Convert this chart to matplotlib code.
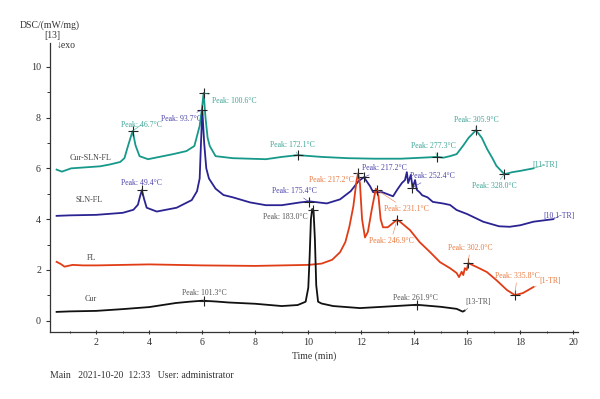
import matplotlib
matplotlib.use("Agg")
import matplotlib.pyplot as plt

plt.rcParams["font.family"] = ["Liberation Serif", "DejaVu Serif"]

# DSC curves, time (min) vs heat flow (mW/mg)
cur_t = [0.5, 1.0, 2.0, 3.0, 4.0, 5.0, 5.5, 6.0, 6.5, 7.0, 8.0, 9.0, 9.6, 9.9, 10.0,
         10.05, 10.1, 10.15, 10.2, 10.25, 10.3, 10.37, 10.5, 10.94, 11.95, 12.8, 14.1,
         15.0, 15.6, 15.83, 15.9]
cur_y = [0.35, 0.37, 0.39, 0.46, 0.54, 0.7, 0.75, 0.79, 0.76, 0.72, 0.67, 0.58, 0.62,
         0.75, 1.3, 2.5, 4.0, 4.4, 4.3, 3.2, 1.4, 0.75, 0.68, 0.58, 0.5, 0.55, 0.63,
         0.55, 0.47, 0.36, 0.4]

fl_t = [0.5, 0.65, 0.8, 1.1, 1.5, 2.0, 3.0, 4.0, 5.0, 6.0, 7.0, 8.0, 9.0, 10.0, 10.5,
        10.9, 11.2, 11.4, 11.55, 11.7, 11.82, 11.88, 11.95, 12.03, 12.14, 12.25, 12.4,
        12.55, 12.65, 12.73, 12.82, 13.0, 13.2, 13.35, 13.46, 13.84, 14.2, 14.6, 14.97,
        15.35, 15.6, 15.69, 15.79, 15.85, 15.91, 15.98, 16.04, 16.37, 16.74, 17.1, 17.5,
        17.8, 18.1, 18.5]
fl_y = [2.32, 2.24, 2.13, 2.2, 2.18, 2.18, 2.2, 2.22, 2.2, 2.18, 2.17, 2.16, 2.18, 2.2,
        2.25, 2.4, 2.7, 3.1, 3.7, 4.5, 5.5, 5.8, 5.4, 4.0, 3.28, 3.5, 4.4, 5.2, 4.9, 4.0,
        3.68, 3.68, 3.85, 3.98, 3.9, 3.57, 3.1, 2.7, 2.31, 2.07, 1.88, 1.72, 1.93, 1.8,
        2.07, 2.0, 2.27, 2.11, 1.92, 1.6, 1.21, 1.01, 1.09, 1.33]

sln_t = [0.5, 1.0, 2.0, 3.0, 3.4, 3.57, 3.65, 3.72, 3.8, 3.9, 4.28, 5.03, 5.6, 5.8,
         5.9, 5.95, 6.0, 6.07, 6.15, 6.25, 6.5, 6.8, 7.15, 7.8, 8.4, 9.0, 9.7, 10.05,
         10.7, 11.2, 11.6, 11.9, 12.1, 12.33, 12.45, 12.8, 13.2, 13.35, 13.53, 13.65,
         13.72, 13.77, 13.87, 13.94, 14.03, 14.1, 14.2, 14.3, 14.5, 14.7, 15.07, 15.35,
         15.6, 16.0, 16.6, 17.2, 17.6, 18.0, 18.5, 19.25]
sln_y = [4.13, 4.15, 4.17, 4.25, 4.37, 4.57, 4.9, 5.14, 4.8, 4.45, 4.3, 4.45, 4.75,
         5.1, 5.6, 7.0, 8.3, 7.0, 6.0, 5.6, 5.2, 4.95, 4.86, 4.66, 4.55, 4.55, 4.66, 4.7,
         4.62, 4.78, 5.1, 5.5, 5.65, 5.3, 5.06, 5.06, 4.9, 5.15, 5.42, 5.54, 5.85, 5.42,
         5.74, 5.22, 5.54, 5.15, 5.06, 4.94, 4.86, 4.68, 4.62, 4.56, 4.36, 4.2, 3.9,
         3.72, 3.7, 3.76, 3.9, 4.0]

csf_t = [0.5, 0.7, 1.05, 2.14, 2.5, 2.9, 3.06, 3.2, 3.37, 3.48, 3.63, 3.95, 4.9, 5.4,
         5.7, 5.9, 5.98, 6.05, 6.12, 6.2, 6.28, 6.5, 7.15, 8.4, 9.0, 9.6, 10.5, 11.5,
         12.5, 13.5, 14.3, 14.86, 15.1, 15.35, 15.6, 15.85, 16.05, 16.33, 16.55, 16.75,
         16.95, 17.1, 17.4, 17.7, 18.0, 18.5]
csf_y = [5.95, 5.87, 6.0, 6.08, 6.15, 6.25, 6.4, 6.9, 7.47, 6.9, 6.48, 6.36, 6.56,
         6.68, 6.88, 7.67, 8.3, 8.97, 8.0, 7.2, 6.88, 6.48, 6.4, 6.36, 6.45, 6.52, 6.45,
         6.4, 6.38, 6.38, 6.42, 6.45, 6.42, 6.48, 6.56, 6.9, 7.2, 7.5, 7.2, 6.76, 6.4,
         6.1, 5.77, 5.85, 5.9, 6.0]

# peak labels: text, peak (time, value), label anchor (time, value), group
peaks = [
    ("Peak: 46.7°C", 3.37, 7.47, 3.69, 7.71, "csf"),
    ("Peak: 100.6°C", 6.05, 8.97, 7.2, 8.65, "csf"),
    ("Peak: 172.1°C", 9.61, 6.52, 9.42, 6.91, "csf"),
    ("Peak: 277.3°C", 14.86, 6.45, 14.74, 6.88, "csf"),
    ("Peak: 305.9°C", 16.33, 7.5, 16.33, 7.9, "csf"),
    ("Peak: 328.0°C", 17.4, 5.77, 17.04, 5.3, "csf"),
    ("Peak: 93.7°C", 6.0, 8.3, 5.2, 7.94, "sln"),
    ("Peak: 49.4°C", 3.72, 5.14, 3.69, 5.42, "sln"),
    ("Peak: 175.4°C", 10.03, 4.68, 9.46, 5.1, "sln"),
    ("Peak: 217.2°C", 12.1, 5.65, 12.86, 6.01, "sln"),
    ("Peak: 252.4°C", 13.9, 5.22, 14.7, 5.7, "sln"),
    ("Peak: 217.2°C", 11.88, 5.8, 10.86, 5.54, "fl"),
    ("Peak: 231.1°C", 12.59, 5.15, 13.69, 4.4, "fl"),
    ("Peak: 246.9°C", 13.35, 3.96, 13.12, 3.14, "fl"),
    ("Peak: 302.0°C", 16.04, 2.27, 16.1, 2.86, "fl"),
    ("Peak: 335.8°C", 17.8, 1.01, 17.88, 1.76, "fl"),
    ("Peak: 101.3°C", 6.05, 0.79, 6.07, 1.09, "cur"),
    ("Peak: 183.0°C", 10.17, 4.38, 9.12, 4.08, "cur"),
    ("Peak: 261.9°C", 14.1, 0.63, 14.06, 0.9, "cur"),
]

# end tags [..-TR]
ends = [
    ("[11-TR]", 18.5, 6.0, 18.93, 6.13, "csf"),
    ("[10.1-TR]", 19.25, 4.0, 19.46, 4.12, "sln"),
    ("[1-TR]", 18.5, 1.33, 19.12, 1.56, "fl"),
    ("[13-TR]", 15.9, 0.4, 16.4, 0.75, "cur"),
]

names = [("Cur-SLN-FL", 1.8, 6.4), ("SLN-FL", 1.72, 4.75), ("FL", 1.8, 2.47), ("Cur", 1.8, 0.85)]

line_col = {"csf": "#16998a", "sln": "#2b2392", "fl": "#e03d16", "cur": "#111111"}
text_col = {"csf": "#3ea497", "sln": "#4c45aa", "fl": "#e87a40", "cur": "#555555"}

fig = plt.figure(figsize=(6, 3.99), dpi=100)
ax = fig.add_axes([0.0833, 0.168, 0.88, 0.724])

ax.plot(csf_t, csf_y, color=line_col["csf"], lw=1.3)
ax.plot(sln_t, sln_y, color=line_col["sln"], lw=1.3)
ax.plot(fl_t, fl_y, color=line_col["fl"], lw=1.3)
ax.plot(cur_t, cur_y, color=line_col["cur"], lw=1.3)

for txt, px, py, lx, ly, g in peaks:
    ax.annotate(txt, xy=(px, py), xytext=(lx, ly), ha="center", va="center",
                fontsize=5.6, color=text_col[g],
                arrowprops=dict(arrowstyle="-", color=text_col[g], lw=0.4,
                                shrinkA=0, shrinkB=0))
    ax.plot(px, py, marker="+", color="#222222", ms=7, mew=0.8)

for txt, px, py, lx, ly, g in ends:
    ax.annotate(txt, xy=(px, py), xytext=(lx, ly), ha="center", va="center",
                fontsize=5.6, color=text_col[g],
                arrowprops=dict(arrowstyle="-", color=text_col[g], lw=0.4,
                                shrinkA=0, shrinkB=0))

for txt, x, y in names:
    ax.text(x, y, txt, ha="center", va="center", fontsize=5.8, color="#444444")

ax.set_xlim(0.25, 20.18)
ax.set_ylim(-0.44, 10.93)
ax.set_xticks(range(2, 21, 2))
ax.set_xticks(range(1, 21), minor=True)
ax.set_yticks(range(0, 11, 2))
ax.set_yticks(range(1, 11, 2), minor=True)
ax.spines["top"].set_visible(False)
ax.spines["right"].set_visible(False)
for s in ("left", "bottom"):
    ax.spines[s].set_linewidth(0.9)
    ax.spines[s].set_color("#333333")
ax.tick_params(axis="both", which="major", labelsize=7.2, colors="#333333", length=3, width=0.8)
ax.tick_params(axis="both", which="minor", length=2, width=0.7, colors="#333333")
ax.tick_params(axis="x", which="both", direction="inout", pad=3)
ax.set_xlabel("Time (min)", fontsize=7, color="#333333", labelpad=3)

fig.text(50 / 600, 1 - 25 / 399, "DSC/(mW/mg)", ha="center", va="center", fontsize=7, color="#333333")
fig.text(52 / 600, 1 - 35 / 399, "[13]", ha="center", va="center", fontsize=7, color="#333333")
fig.text(57 / 600, 1 - 45 / 399, "↓exo", ha="left", va="center", fontsize=7, color="#333333")
fig.text(50 / 600, 1 - 375 / 399, "Main   2021-10-20  12:33   User: administrator",
         ha="left", va="center", fontsize=7, color="#333333")

fig.savefig("out.png", dpi=100)
